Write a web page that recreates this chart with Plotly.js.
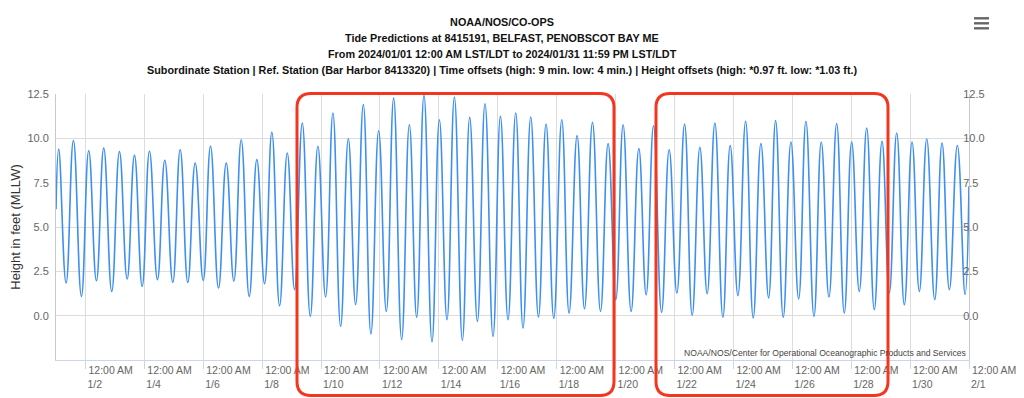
<!DOCTYPE html>
<html>
<head>
<meta charset="utf-8">
<script src="https://cdn.plot.ly/plotly-3.0.1.min.js"></script>
<style>
  html, body { margin: 0; padding: 0; background: #fff; }
  #chart { width: 1024px; height: 398px; }
</style>
</head>
<body>
<div id="chart"></div>
<script>
// Predicted tide extremes (alternating high / low), plus start and end values
const tideTimes = [
  '2024-01-01 00:00',
  '2024-01-01 02:12','2024-01-01 08:14','2024-01-01 14:11','2024-01-01 20:43',
  '2024-01-02 02:40','2024-01-02 08:57','2024-01-02 14:54','2024-01-02 21:25',
  '2024-01-03 03:42','2024-01-03 09:59','2024-01-03 15:56','2024-01-03 22:13',
  '2024-01-04 04:10','2024-01-04 10:41','2024-01-04 16:39','2024-01-04 23:10',
  '2024-01-05 05:12','2024-01-05 11:24','2024-01-05 17:26','2024-01-05 23:58',
  '2024-01-06 05:55','2024-01-06 12:26','2024-01-06 18:43','2024-01-07 00:55',
  '2024-01-07 06:57','2024-01-07 13:28','2024-01-07 19:40','2024-01-08 01:57',
  '2024-01-08 07:54','2024-01-08 14:11','2024-01-08 20:28','2024-01-09 02:25',
  '2024-01-09 08:41','2024-01-09 15:13','2024-01-09 21:25','2024-01-10 03:41',
  '2024-01-10 09:39','2024-01-10 15:56','2024-01-10 22:13','2024-01-11 04:10',
  '2024-01-11 10:26','2024-01-11 16:38','2024-01-11 22:55','2024-01-12 05:11',
  '2024-01-12 11:09','2024-01-12 17:40','2024-01-12 23:57','2024-01-13 05:55',
  '2024-01-13 11:52','2024-01-13 18:23','2024-01-14 00:25','2024-01-14 06:37',
  '2024-01-14 12:39','2024-01-14 19:10','2024-01-15 01:08','2024-01-15 07:25',
  '2024-01-15 13:36','2024-01-15 20:08','2024-01-16 02:10','2024-01-16 08:22',
  '2024-01-16 14:38','2024-01-16 20:35','2024-01-17 02:52','2024-01-17 09:09',
  '2024-01-17 15:21','2024-01-17 21:38','2024-01-18 04:09','2024-01-18 10:06',
  '2024-01-18 16:38','2024-01-18 22:40','2024-01-19 05:11','2024-01-19 11:43',
  '2024-01-19 17:55','2024-01-20 00:11','2024-01-20 06:08','2024-01-20 12:40',
  '2024-01-20 18:57','2024-01-21 00:54','2024-01-21 06:56','2024-01-21 13:28',
  '2024-01-21 19:40','2024-01-22 01:56','2024-01-22 08:13','2024-01-22 14:25',
  '2024-01-22 20:41','2024-01-23 02:38','2024-01-23 08:55','2024-01-23 15:27',
  '2024-01-23 21:24','2024-01-24 03:41','2024-01-24 09:58','2024-01-24 16:09',
  '2024-01-24 22:26','2024-01-25 04:43','2024-01-25 10:25','2024-01-25 16:37',
  '2024-01-25 22:54','2024-01-26 05:11','2024-01-26 11:08','2024-01-26 17:40',
  '2024-01-26 23:37','2024-01-27 05:53','2024-01-27 12:10','2024-01-27 18:22',
  '2024-01-28 00:24','2024-01-28 06:36','2024-01-28 12:38','2024-01-28 18:50',
  '2024-01-29 01:07','2024-01-29 07:04','2024-01-29 13:06','2024-01-29 19:18',
  '2024-01-30 01:35','2024-01-30 07:32','2024-01-30 13:34','2024-01-30 20:05',
  '2024-01-31 02:02','2024-01-31 07:59','2024-01-31 14:31','2024-01-31 20:48',
  '2024-01-31 23:59'
];
const tideHeights = [
  6.0,
  9.40, 1.84, 9.87, 1.09,
  9.30, 1.97, 9.45, 1.37,
  9.25, 2.07, 9.04, 1.65,
  9.27, 2.03, 8.76, 1.88,
  9.36, 1.88, 8.61, 1.99,
  9.55, 1.56, 8.61, 1.95,
  9.92, 1.09, 8.80, 1.80,
  10.34, 0.56, 9.17, 1.47,
  10.86, -0.04, 9.55, 1.05,
  11.43, -0.60, 9.98, 0.62,
  11.90, -1.03, 10.43, 0.24,
  12.27, -1.35, 10.77, -0.09,
  12.42, -1.48, 11.05, -0.23,
  12.33, -1.39, 11.18, -0.32,
  11.95, -1.17, 11.24, -0.23,
  11.43, -0.70, 11.20, -0.08,
  10.80, -0.15, 11.05, 0.15,
  10.15, 0.39, 10.90, 0.24,
  9.70, 0.90, 10.77, 0.24,
  9.42, 1.18, 10.71, 0.19,
  9.36, 1.28, 10.80, 0.02,
  9.49, 1.24, 10.86, -0.09,
  9.59, 1.13, 10.96, -0.13,
  9.70, 1.00, 11.00, -0.09,
  9.79, 0.94, 10.96, -0.04,
  9.79, 1.05, 10.83, 0.15,
  9.79, 1.37, 10.58, 0.34,
  9.83, 1.28, 10.30, 0.62,
  9.79, 1.37, 9.96, 0.90,
  9.74, 1.47, 9.60, 1.20,
  7.3
];
const yTicks = [0, 2.5, 5, 7.5, 10, 12.5];
const titleLines = [
  'NOAA/NOS/CO-OPS',
  'Tide Predictions at 8415191, BELFAST, PENOBSCOT BAY ME',
  'From 2024/01/01 12:00 AM LST/LDT to 2024/01/31 11:59 PM LST/LDT',
  'Subordinate Station | Ref. Station (Bar Harbor 8413320) | Time offsets (high: 9 min. low: 4 min.) | Height offsets (high: *0.97 ft. low: *1.03 ft.)'
];
const creditText = 'NOAA/NOS/Center for Operational Oceanographic Products and Services';
const yTitle = 'Height in feet (MLLW)';
const xStart = '2024-01-01 00:00';
const xEnd = '2024-02-01 00:00';

// ---- layout geometry (pixels) ----
const W = 1024, H = 398;
const M = { l: 56, r: 55, t: 94, b: 38 };
const PW = W - M.l - M.r, PH = H - M.t - M.b;
const px2x = p => (p - M.l) / PW;
const py2y = p => (H - M.b - p) / PH;

function roundRectPath(x0, y0, x1, y1, r) {
  const X = px2x, Y = py2y;
  return 'M' + X(x0 + r) + ',' + Y(y0) +
    ' L' + X(x1 - r) + ',' + Y(y0) +
    ' Q' + X(x1) + ',' + Y(y0) + ' ' + X(x1) + ',' + Y(y0 + r) +
    ' L' + X(x1) + ',' + Y(y1 - r) +
    ' Q' + X(x1) + ',' + Y(y1) + ' ' + X(x1 - r) + ',' + Y(y1) +
    ' L' + X(x0 + r) + ',' + Y(y1) +
    ' Q' + X(x0) + ',' + Y(y1) + ' ' + X(x0) + ',' + Y(y1 - r) +
    ' L' + X(x0) + ',' + Y(y0 + r) +
    ' Q' + X(x0) + ',' + Y(y0) + ' ' + X(x0 + r) + ',' + Y(y0) + ' Z';
}

const FONT = 'Liberation Sans, Arial, Helvetica, sans-serif';
const gridCol = '#dcdcdc';
const titleFont = { family: FONT, size: 10.8, color: '#111' };
const titleY = [22, 38, 54, 69.5];

const trace = {
  type: 'scatter',
  mode: 'lines',
  x: tideTimes,
  y: tideHeights,
  line: { color: '#3d8ff2', width: 1.6, shape: 'spline', smoothing: 1.3 },
  hoverinfo: 'x+y',
  showlegend: false
};

const hamburger = [18.3, 23.3, 28.3].map(cy => ({
  type: 'rect', xref: 'paper', yref: 'paper',
  x0: px2x(974), x1: px2x(989), y0: py2y(cy - 1.2), y1: py2y(cy + 1.2),
  fillcolor: '#666', line: { width: 0 }
}));

const subTitleAnns = titleLines.slice(1).map((s, i) => ({
  text: '<b>' + s + '</b>', xref: 'paper', yref: 'paper',
  x: px2x(502), y: py2y(titleY[i + 1]), xanchor: 'center', yanchor: 'middle',
  showarrow: false, font: titleFont
}));

const layout = {
  width: W, height: H,
  margin: M,
  paper_bgcolor: '#fff', plot_bgcolor: '#fff',
  showlegend: false,
  font: { family: FONT, color: '#666', size: 11 },
  title: {
    text: '<b>' + titleLines[0] + '</b>',
    font: titleFont,
    xref: 'container', x: 502 / W, xanchor: 'center',
    yref: 'container', y: 1 - titleY[0] / H, yanchor: 'middle'
  },
  xaxis: {
    type: 'date', range: [xStart, xEnd],
    tick0: '2024-01-02', dtick: 2 * 86400000,
    tickformat: '%I:%M %p',
    ticklabelposition: 'outside right',
    ticklabelshift: 2,
    showgrid: true, gridcolor: gridCol, gridwidth: 1,
    ticks: 'outside', ticklen: 8, tickcolor: '#ccd6eb',
    showline: true, linecolor: '#ccd6eb', linewidth: 1,
    zeroline: false,
    tickfont: { family: FONT, size: 10.5, color: '#666' },
    fixedrange: true
  },
  xaxis2: {
    type: 'date', range: [xStart, xEnd], overlaying: 'x', anchor: 'y', side: 'bottom',
    tick0: '2024-01-02', dtick: 2 * 86400000,
    tickformat: '%-m/%-d',
    ticklabelposition: 'outside right',
    ticklabelshift: 2,
    ticklabelstandoff: 16,
    showgrid: false, ticks: '', showline: false, zeroline: false,
    tickfont: { family: FONT, size: 10.5, color: '#666' }
  },
  yaxis: {
    range: [-2.5, 12.5], tickvals: yTicks, tickformat: '.1f',
    showgrid: true, gridcolor: gridCol, zeroline: false,
    showline: true, linecolor: '#c8c8c8',
    ticks: '', ticklabelstandoff: 4,
    tickfont: { family: FONT, size: 11, color: '#666' },
    title: { text: yTitle, font: { family: FONT, size: 13, color: '#333' }, standoff: 3 },
    fixedrange: true
  },
  yaxis2: {
    range: [-2.5, 12.5], tickvals: yTicks, tickformat: '.1f',
    overlaying: 'y', side: 'right', anchor: 'x',
    showgrid: false, zeroline: false,
    showline: true, linecolor: '#c8c8c8',
    ticks: '', ticklabelstandoff: -9,
    tickfont: { family: FONT, size: 11, color: '#666' }
  },
  annotations: [
    ...subTitleAnns,
    {
      text: creditText, xref: 'paper', yref: 'paper',
      x: px2x(968), y: py2y(353), xanchor: 'right', yanchor: 'middle',
      showarrow: false, font: { family: FONT, size: 8.6, color: '#444' }
    }
  ],
  shapes: [
    ...hamburger,
    { type: 'path', xref: 'paper', yref: 'paper', path: roundRectPath(297, 93.5, 614, 395.5, 14),
      line: { color: '#f4361e', width: 3 }, fillcolor: 'rgba(0,0,0,0)', layer: 'above' },
    { type: 'path', xref: 'paper', yref: 'paper', path: roundRectPath(656, 93.5, 888, 395.5, 14),
      line: { color: '#f4361e', width: 3 }, fillcolor: 'rgba(0,0,0,0)', layer: 'above' }
  ]
};

const dummy = { type: 'scatter', mode: 'lines', x: [xStart, xEnd], y: [null, null], xaxis: 'x2', yaxis: 'y2', hoverinfo: 'skip', showlegend: false };

Plotly.newPlot('chart', [trace, dummy], layout, { displayModeBar: false, responsive: false });
</script>
</body>
</html>
